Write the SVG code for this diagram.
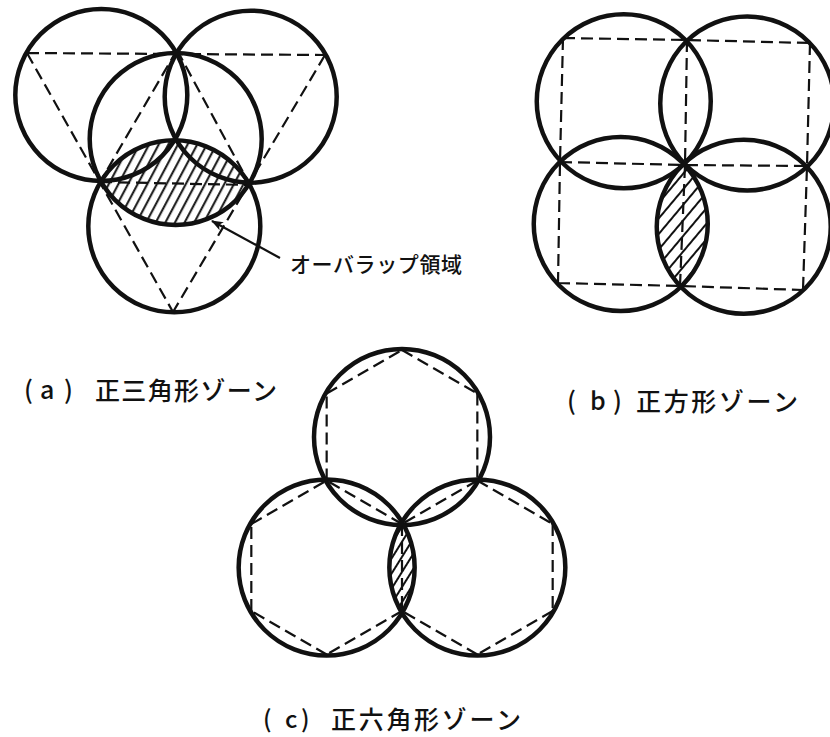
<svg xmlns="http://www.w3.org/2000/svg" width="830" height="737" viewBox="0 0 830 737">
<style>
.c{fill:none;stroke:#111;stroke-width:4.5}
.d{fill:none;stroke:#111;stroke-width:2.2;stroke-dasharray:12 6}
.t{font-family:"Noto Sans CJK JP","Noto Sans",sans-serif;fill:#111;font-weight:500}
.lead{fill:none;stroke:#111;stroke-width:2.2}
</style>
<defs>
<pattern id="hA" width="8.5" height="10" patternUnits="userSpaceOnUse" patternTransform="rotate(28)"><line x1="4" y1="0" x2="4" y2="10" stroke="#111" stroke-width="2"/></pattern>
<pattern id="hB" width="10" height="10" patternUnits="userSpaceOnUse" patternTransform="rotate(40)"><line x1="5" y1="0" x2="5" y2="10" stroke="#111" stroke-width="2"/></pattern>
<pattern id="hC" width="8" height="10" patternUnits="userSpaceOnUse" patternTransform="rotate(32)"><line x1="4" y1="0" x2="4" y2="10" stroke="#111" stroke-width="2"/></pattern>
<clipPath id="clA"><circle cx="174.3" cy="226.3" r="86"/></clipPath>
<clipPath id="clB"><circle cx="743.75" cy="226.75" r="87"/></clipPath>
<clipPath id="clC"><circle cx="477.34" cy="567.5" r="88"/></clipPath>
<marker id="arr" markerWidth="12" markerHeight="10" refX="11" refY="5" orient="auto" markerUnits="userSpaceOnUse"><path d="M0,0.5 L12,5 L0,9.5 L3,5 z" fill="#111"/></marker>
</defs>

<g id="panel-a">
  <circle cx="175.7" cy="139" r="86" fill="url(#hA)" clip-path="url(#clA)"/>
  <path class="d" d="M27,53 L325,55 M27,53 L173,312 M325,55 L173,312 M177,50 L100,182 M177,50 L250,185 M100,182 L250,185"/>
  <g id="a-circle-tl"><circle class="c" cx="101.3" cy="95" r="86"/></g>
  <g id="a-circle-tr"><circle class="c" cx="250.7" cy="96.7" r="86"/></g>
  <g id="a-circle-mid"><circle class="c" cx="175.7" cy="139" r="86"/></g>
  <g id="a-circle-bot"><circle class="c" cx="174.3" cy="226.3" r="86"/></g>
  <g id="a-label">
    <text class="t" font-size="25" y="399"><tspan x="24">(</tspan><tspan x="40">a</tspan><tspan x="64">)</tspan></text>
    <text class="t" font-size="25" x="95" y="400" textLength="182" lengthAdjust="spacing">正三角形ゾーン</text>
  </g>
  <g id="overlap-label">
    <text class="t" font-size="21" x="290" y="272" textLength="172" lengthAdjust="spacing">オーバラップ領域</text>
  </g>
</g>

<g id="panel-b">
  <circle cx="620.75" cy="224" r="87" fill="url(#hB)" clip-path="url(#clB)"/>
  <path class="d" d="M563,38 L687,40 L810,43 M560,162 L685,165 L807,166 M558,283 L680,286 L803,290 M563,38 L560,162 L558,283 M687,40 L685,165 L680,286 M810,43 L807,166 L803,290"/>
  <g id="b-circle-tl"><circle class="c" cx="623.75" cy="101.25" r="87"/></g>
  <g id="b-circle-tr"><circle class="c" cx="747.25" cy="103.5" r="87"/></g>
  <g id="b-circle-bl"><circle class="c" cx="620.75" cy="224" r="87"/></g>
  <g id="b-circle-br"><circle class="c" cx="743.75" cy="226.75" r="87"/></g>
  <g id="b-label">
    <text class="t" font-size="25" y="410"><tspan x="567">(</tspan><tspan x="590">b</tspan><tspan x="613">)</tspan></text>
    <text class="t" font-size="25" x="636" y="411" textLength="162" lengthAdjust="spacing">正方形ゾーン</text>
  </g>
</g>

<g id="panel-c">
  <circle cx="326.66" cy="567.5" r="88" fill="url(#hC)" clip-path="url(#clC)"/>
  <path class="d" d="M402,350 L477.34,393.5 M477.34,393.5 L477.34,480.5 M477.34,480.5 L402,524 M402,524 L326.66,480.5 M326.66,480.5 L326.66,393.5 M326.66,393.5 L402,350 M402,524 L402,611 M402,611 L326.66,654.5 M326.66,654.5 L251.32,611 M251.32,611 L251.32,524 M251.32,524 L326.66,480.5 M477.34,480.5 L552.68,524 M552.68,524 L552.68,611 M552.68,611 L477.34,654.5 M477.34,654.5 L402,611"/>
  <g id="c-circle-top"><circle class="c" cx="402" cy="437" r="88"/></g>
  <g id="c-circle-bl"><circle class="c" cx="326.66" cy="567.5" r="88"/></g>
  <g id="c-circle-br"><circle class="c" cx="477.34" cy="567.5" r="88"/></g>
  <g id="c-label">
    <text class="t" font-size="24" y="728"><tspan x="263">(</tspan><tspan x="285">c</tspan><tspan x="301">)</tspan></text>
    <text class="t" font-size="25" x="331" y="729" textLength="190" lengthAdjust="spacing">正六角形ゾーン</text>
  </g>
</g>

<g id="connectors">
  <line class="lead" x1="280" y1="258" x2="212" y2="221" marker-end="url(#arr)"/>
</g>
</svg>
